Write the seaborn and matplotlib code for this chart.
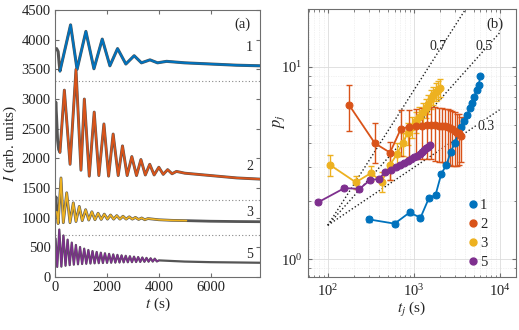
import numpy as np
import pandas as pd
import matplotlib
matplotlib.use("Agg")
import matplotlib.pyplot as plt
from matplotlib.lines import Line2D
from matplotlib.ticker import LogLocator, NullFormatter
import seaborn as sns

# ---------------- panel (a): intensity traces (turning points) ----------------
t1_raw = [0, 60, 120, 160, 190]
I1_raw = [3830, 3850, 3800, 3600, 3470]
t1 = [190, 600, 850, 1190, 1500, 1820, 2115, 2410, 2730, 3050, 3330, 3660, 3950, 4300, 5000, 6000, 7000, 7900]
I1 = [3470, 4250, 3500, 4140, 3510, 4010, 3560, 3850, 3590, 3730, 3610, 3660, 3610, 3635, 3610, 3590, 3570, 3560]

t2_raw = [0, 30, 60, 100, 140, 190]
I2_raw = [2500, 2950, 2700, 2300, 2150, 2100]
t2 = [190, 360, 580, 808, 1000, 1130, 1320, 1510, 1690, 1885, 2065, 2240, 2435, 2600, 2780,
      2960, 3140, 3310, 3480, 3650, 3820, 4000, 4170, 4340, 4510, 4680, 5000, 6000, 7000, 7900]
I2 = [2100, 3150, 1900, 3500, 1800, 3000, 1700, 2780, 1710, 2580, 1700, 2410, 1710, 2210, 1710,
      2030, 1710, 1980, 1720, 1900, 1720, 1850, 1730, 1810, 1740, 1780, 1750, 1710, 1670, 1650]

t3_raw = [0, 40, 70]
I3_raw = [1200, 1350, 1100]
t3 = [70, 120, 230, 320, 450, 577, 705, 808, 935, 1050, 1180, 1300, 1420, 1540, 1660, 1780, 1900,
      2020, 2140, 2260, 2380, 2500, 2620, 2740, 2860, 2980, 3100, 3220, 3340, 3460, 3580, 4000, 4500, 5065]
I3 = [1100, 900, 1670, 915, 1420, 915, 1250, 935, 1190, 950, 1135, 960, 1100, 965, 1075, 970, 1060,
      975, 1045, 975, 1035, 975, 1025, 975, 1015, 975, 1005, 970, 995, 965, 985, 965, 955, 950]
t3_tail = [5065, 6000, 7000, 7900]
I3_tail = [950, 940, 935, 932]

t5 = [20, 85, 165, 245, 325, 405, 485, 565, 645, 725, 805, 885, 965, 1045, 1125, 1205, 1285, 1365,
      1445, 1525, 1605, 1685, 1765, 1845, 1925, 2005, 2085, 2165, 2245, 2325, 2405, 2485, 2565, 2645,
      2725, 2805, 2885, 2965, 3045, 3125, 3205, 3285, 3365, 3445, 3525, 3605, 3685, 3765, 3845, 3925,
      4005]
I5 = [650, 170, 800, 175, 700, 190, 630, 200, 580, 208, 540, 214, 505, 219, 478, 223, 455, 227,
      437, 230, 422, 233, 410, 236, 400, 238, 390, 240, 381, 242, 373, 244, 365, 246,
      358, 248, 350, 250, 343, 252, 336, 254, 329, 256, 322, 258, 315, 260, 309, 262,
      280]
t5_tail = [4005, 5000, 6000, 7000, 7900]
I5_tail = [280, 260, 250, 245, 240]

baselines = [3300, 1300, 700]
trace_names = ["1", "2", "3", "5"]
trace_label_y = [3864, 1860, 1080, 373]

# ---------------- panel (b): p_j versus t_j ----------------
tj1 = [300, 600, 900, 1200, 1500, 1800, 2100, 2400, 2700, 3000, 3300, 3600, 3900, 4200, 4500,
       4800, 5100, 5400, 5700, 6000]
pj1 = [1.61, 1.53, 1.75, 1.64, 2.07, 2.16, 2.78, 3.08, 3.6, 4.0, 4.5, 4.85, 5.2, 5.6, 6.1,
       6.5, 7.0, 7.6, 8.0, 9.0]
ej1 = [0.05] * 20

tj2 = [177, 354, 531, 708, 885, 1062, 1239, 1416, 1593, 1770, 1947, 2124, 2301, 2478, 2655,
       2832, 3009, 3186, 3363, 3540]
pj2 = [6.33, 4.0, 3.58, 4.75, 4.88, 4.9, 4.95, 5.0, 5.0, 5.0, 4.95, 4.95, 4.9, 4.85, 4.8,
       4.75, 4.65, 4.55, 4.5, 4.35]
ej2_lo = [1.7, 0.85, 1.0, 1.3, 1.5, 1.6, 1.65, 1.7, 1.7, 1.75, 1.75, 1.75, 1.75, 1.75, 1.7,
          1.7, 1.6, 1.5, 1.4, 1.15]
ej2_hi = [1.7, 1.08, 0.5, 1.2, 1.1, 1.1, 1.15, 1.15, 1.15, 1.15, 1.15, 1.15, 1.15, 1.15, 1.15,
          1.15, 1.15, 1.15, 1.15, 1.15]

tj3 = [106, 212, 318, 424, 530, 636, 742, 848, 954, 1060, 1166, 1272, 1378, 1484, 1590,
       1696, 1802, 1908, 2014]
pj3 = [3.09, 2.51, 2.8, 2.53, 3.09, 3.5, 4.0, 4.5, 4.85, 5.2, 5.5, 5.8, 6.1, 6.4, 6.8,
       7.1, 7.4, 7.6, 7.8]
ej3 = [0.4, 0.2, 0.25, 0.3, 0.5, 0.5, 0.55, 0.6, 0.6, 0.65, 0.65, 0.7, 0.7, 0.7, 0.75,
       0.75, 0.8, 0.8, 0.8]

tj5 = [78, 156, 234, 312, 390, 468, 546, 624, 702, 780, 858, 936, 1014, 1092, 1170, 1248,
       1326, 1404, 1482, 1560]
pj5 = [1.98, 2.34, 2.32, 2.58, 2.61, 2.83, 2.91, 3.0, 3.08, 3.15, 3.22, 3.3, 3.38, 3.45,
       3.53, 3.6, 3.68, 3.76, 3.84, 3.92]
ej5 = [0.05] * 20

guide_exponents = [0.7, 0.5, 0.3]
guide_t = [100, 10000]
guide_p0 = 1.5

colors = {"1": "#0072BD", "2": "#D95319", "3": "#EDB120", "5": "#7E2F8E"}
raw_gray = "#555555"
axis_gray = "#6e6e6e"

sns.set_style("ticks")
plt.rcParams["font.family"] = ["Liberation Serif", "DejaVu Serif"]
plt.rcParams["mathtext.fontset"] = "stix"
plt.rcParams["axes.edgecolor"] = axis_gray
plt.rcParams["xtick.color"] = axis_gray
plt.rcParams["ytick.color"] = axis_gray
plt.rcParams["xtick.labelcolor"] = "#222222"
plt.rcParams["ytick.labelcolor"] = "#222222"
plt.rcParams["axes.linewidth"] = 0.8

fig = plt.figure(figsize=(5.19, 3.30), dpi=100)
ax1 = fig.add_axes([0.106, 0.1606, 0.395, 0.809])
ax2 = fig.add_axes([0.593, 0.160, 0.401, 0.812])

# ---- panel (a)
def trace(ax, t, I, color, lw):
    df = pd.DataFrame({"t": t, "I": I})
    sns.lineplot(data=df, x="t", y="I", ax=ax, color=color, lw=lw, sort=False,
                 estimator=None, solid_joinstyle="round")

for y0 in baselines:
    ax1.axhline(y0, color="#888888", ls=(0, (1, 2)), lw=0.8, zorder=1)

# raw recordings (gray) underneath the fitted curves
trace(ax1, t1_raw + t1[1:], I1_raw + I1[1:], raw_gray, 2.2)
trace(ax1, t2_raw + t2[1:], I2_raw + I2[1:], raw_gray, 2.1)
trace(ax1, t3_raw + t3[1:] + t3_tail[1:], I3_raw + I3[1:] + I3_tail[1:], raw_gray, 2.0)
trace(ax1, t5 + t5_tail[1:], I5 + I5_tail[1:], raw_gray, 1.6)

trace(ax1, t1, I1, colors["1"], 1.5)
trace(ax1, t2, I2, colors["2"], 1.4)
trace(ax1, t3, I3, colors["3"], 1.2)
trace(ax1, t5, I5, colors["5"], 1.0)

for name, yl in zip(trace_names, trace_label_y):
    ax1.text(7500, yl, name, fontsize=10, ha="center", va="center")
ax1.text(0.915, 0.946, "(a)", transform=ax1.transAxes, fontsize=10.5, ha="center", va="center")

ax1.set_xlim(0, 7900)
ax1.set_ylim(0, 4500)
ax1.set_xticks([0, 2000, 4000, 6000])
ax1.set_yticks(np.arange(0, 4501, 500))
ax1.set_xlabel(r"$t$ (s)", fontsize=11, labelpad=1)
ax1.set_ylabel(r"$I$ (arb. units)", fontsize=11, labelpad=2)
ax1.tick_params(direction="in", top=True, right=True, length=3, labelsize=10.5, pad=3)
for s in ax1.spines.values():
    s.set_visible(True)

# ---- panel (b)
ax2.set_xscale("log")
ax2.set_yscale("log")
ax2.set_xlim(58.5, 15500)
ax2.set_ylim(0.806, 19.9)
ax2.grid(True, which="major", color="#dcdcdc", lw=0.6, ls="-")
ax2.grid(True, which="minor", color="#e6e6e6", lw=0.5, ls=(0, (1, 1.5)))
ax2.set_axisbelow(True)

for a in guide_exponents:
    gp = [guide_p0 * (tt / guide_t[0]) ** a for tt in guide_t]
    ax2.plot(guide_t, gp, color="#222222", ls=(0, (1, 1.6)), lw=1.0, zorder=2)
ax2.text(1932, 12.7, "0.7", fontsize=10, ha="center", va="center")
ax2.text(6620, 12.7, "0.5", fontsize=10, ha="center", va="center")
ax2.text(7000, 4.88, "0.3", fontsize=10, ha="center", va="center",
         bbox=dict(fc="white", ec="none", pad=0.3))

series_b = [("1", tj1, pj1, ej1), ("3", tj3, pj3, ej3), ("2", tj2, pj2, [ej2_lo, ej2_hi]),
            ("5", tj5, pj5, ej5)]
for name, tj, pj, ej in series_b:
    c = colors[name]
    ax2.errorbar(tj, pj, yerr=ej, fmt="none", ecolor=c, elinewidth=1.0, capsize=2, capthick=1.0, zorder=3)
    df = pd.DataFrame({"t": tj, "p": pj})
    sns.lineplot(data=df, x="t", y="p", ax=ax2, color=c, lw=1.3, marker="o", markersize=5,
                 markeredgecolor=c, sort=False, estimator=None, zorder=4)

handles = [Line2D([], [], ls="none", marker="o", color=colors[n], markersize=5) for n in trace_names]
ax2.legend(handles, trace_names, loc="lower left", bbox_to_anchor=(0.726, -0.007), frameon=False,
           handlelength=0.6, handletextpad=0.15, labelspacing=0.4, fontsize=10.5, borderpad=0.2)

ax2.xaxis.set_major_locator(LogLocator(base=10, numticks=10))
ax2.xaxis.set_minor_locator(LogLocator(base=10, subs=np.arange(2, 10), numticks=20))
ax2.xaxis.set_minor_formatter(NullFormatter())
ax2.yaxis.set_minor_formatter(NullFormatter())
ax2.set_xlabel(r"$t_j$ (s)", fontsize=11, labelpad=1)
ax2.set_ylabel(r"$p_j$", fontsize=12)
ax2.yaxis.set_label_coords(-0.10, 0.58)
ax2.tick_params(which="both", direction="in", top=True, right=True, labelsize=10.5)
ax2.tick_params(which="major", length=3, pad=4)
ax2.tick_params(which="minor", length=1.8)
ax2.text(0.90, 0.944, "(b)", transform=ax2.transAxes, fontsize=10.5, ha="center", va="center")

fig.savefig("out.png", dpi=100)
